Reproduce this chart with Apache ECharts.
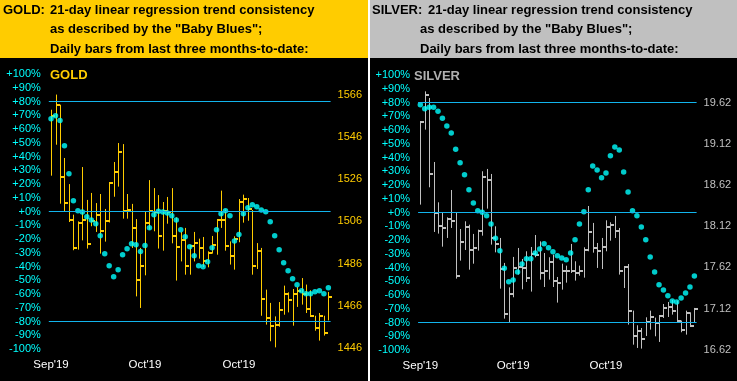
<!DOCTYPE html>
<html>
<head>
<meta charset="utf-8">
<script src="https://cdn.jsdelivr.net/npm/echarts@6/dist/echarts.min.js"></script>
<style>
html,body{margin:0;padding:0;background:#000;}
#c{width:737px;height:381px;}
</style>
</head>
<body>
<div id="c"></div>
<script>
// ---------- DATA ----------
const xTickIndex = [0, 21, 42];
const xTickLabels = ["Sep'19", "Oct'19", "Oct'19"];
const pctLevels = [80, 0, -80];
const goldPriceTicks = [1446, 1466, 1486, 1506, 1526, 1546, 1566];
const silverPriceTicks = [16.62, 17.12, 17.62, 18.12, 18.62, 19.12, 19.62];

const goldHigh = [1559.0,1566.2,1561.4,1536.1,1523.7,1509.2,1506.0,1531.8,1516.2,1519.5,1514.7,1519.0,1511.9,1524.5,1534.2,1543.2,1542.7,1519.0,1514.3,1507.1,1493.4,1510.8,1525.6,1521.8,1518.5,1515.2,1517.6,1521.8,1507.9,1501.0,1502.9,1494.9,1501.0,1497.8,1498.6,1491.8,1499.1,1507.1,1520.6,1511.6,1496.5,1498.9,1516.6,1518.7,1517.1,1511.4,1495.7,1493.4,1473.6,1467.3,1460.9,1467.7,1475.5,1472.3,1473.9,1474.9,1479.1,1476.0,1473.3,1461.2,1462.5,1461.2,1472.5];
const goldLow = [1527.7,1542.4,1514.4,1510.8,1505.7,1492.3,1492.6,1497.0,1493.1,1503.7,1501.0,1490.7,1496.4,1505.5,1517.7,1522.5,1507.3,1507.3,1493.4,1470.4,1464.9,1480.4,1502.1,1501.3,1493.1,1492.1,1504.9,1495.6,1477.9,1487.0,1480.7,1480.7,1487.0,1488.3,1484.3,1484.2,1490.7,1490.2,1502.9,1492.1,1485.5,1483.1,1496.1,1505.4,1506.3,1480.7,1483.4,1461.2,1457.0,1449.1,1446.2,1456.0,1461.7,1462.8,1456.5,1465.4,1466.5,1462.5,1461.2,1454.1,1449.4,1451.8,1459.0];
const goldClose = [1556.2,1561.4,1527.1,1514.9,1506.8,1493.4,1505.1,1506.8,1495.4,1506.0,1508.9,1501.6,1506.3,1524.4,1529.6,1539.1,1510.9,1511.6,1503.0,1478.3,1485.0,1505.4,1511.1,1510.3,1498.9,1510.8,1510.4,1498.9,1493.7,1497.0,1484.7,1494.2,1495.7,1493.4,1487.3,1490.8,1494.9,1506.8,1506.8,1494.5,1489.7,1497.8,1515.4,1516.8,1512.0,1485.0,1492.1,1469.3,1460.1,1456.5,1457.0,1464.1,1471.7,1468.5,1471.7,1473.1,1471.5,1464.2,1461.2,1455.2,1461.2,1453.2,1470.3];
const goldBlues = [67.5,69.7,66.1,47.9,27.5,7.9,0.6,-0.4,-3.8,-6.2,-8.9,-17.6,-30.7,-39.4,-47.4,-42.3,-31.4,-27.0,-23.4,-24.1,-29.0,-24.8,-11.8,-2.3,0.1,-0.4,-1.1,-3.0,-6.2,-13.2,-18.3,-25.6,-32.1,-39.4,-40.1,-36.5,-26.3,-13.2,-1.6,0.6,-3.0,-21.5,-16.8,-1.6,2.8,5.0,3.5,1.1,-0.1,-7.4,-17.6,-27.8,-37.2,-43.0,-48.9,-53.2,-57.6,-59.8,-59.8,-58.3,-57.6,-59.8,-55.4];

const silverHigh = [19.399,19.764,19.683,18.904,18.413,18.291,18.230,18.563,18.291,18.088,18.182,18.141,18.028,18.080,18.791,18.819,18.758,18.121,17.979,17.675,17.378,17.748,17.857,17.723,17.817,17.869,18.015,17.938,17.796,17.744,17.776,17.504,17.666,17.642,17.906,17.695,17.642,17.865,18.368,18.162,17.918,17.979,18.194,18.170,18.247,18.101,17.634,17.662,17.094,16.916,16.883,17.013,17.094,17.009,17.037,17.175,17.200,17.224,17.216,16.973,17.094,17.074,17.127];
const silverLow = [18.385,19.298,18.596,18.052,18.032,17.873,17.979,18.101,17.484,17.703,17.833,17.593,17.666,17.825,18.007,18.336,17.898,17.804,17.362,16.997,16.956,17.257,17.533,17.354,17.443,17.326,17.744,17.472,17.382,17.472,17.382,17.192,17.350,17.435,17.553,17.460,17.520,17.496,17.817,17.800,17.614,17.601,17.817,17.946,17.979,17.533,17.370,16.924,16.680,16.640,16.632,16.786,16.863,16.782,16.713,17.005,17.017,17.046,16.973,16.831,16.802,16.895,16.944];
const silverClose = [19.387,19.716,18.762,18.283,18.121,18.105,18.214,18.190,17.520,17.934,18.117,17.837,17.861,18.068,18.726,18.689,17.979,17.902,17.606,17.058,17.301,17.614,17.626,17.614,17.496,17.788,17.776,17.557,17.577,17.691,17.451,17.431,17.581,17.577,17.577,17.553,17.581,17.833,18.052,17.857,17.821,17.869,18.113,18.137,18.068,17.581,17.626,17.094,16.782,16.851,16.753,16.956,17.021,16.944,17.033,17.127,17.143,17.094,16.973,16.863,17.062,16.908,17.119];
const silverBlues = [78.3,75.4,76.6,76.6,73.7,68.6,63.0,57.9,46.0,36.1,27.4,16.5,7.0,1.2,0.2,-2.4,-8.3,-18.7,-27.9,-40.5,-50.4,-49.0,-43.2,-37.4,-33.7,-33.7,-29.4,-26.5,-22.8,-25.7,-28.6,-31.5,-33.0,-34.4,-29.4,-19.9,-8.3,0.5,16.5,33.9,31.0,25.2,28.8,41.2,47.7,45.5,29.5,15.0,1.2,-2.4,-10.5,-19.9,-32.3,-43.2,-52.6,-56.3,-60.6,-64.3,-65.0,-62.1,-58.5,-54.1,-46.1];

// ---------- BUILD ----------
const N = goldClose.length;
const cats = Array.from({length: N}, (_, i) => i);
const tickMap = {};
xTickIndex.forEach((k, j) => tickMap[k] = xTickLabels[j]);

function ohlc(h, l, c) { return h.map((v, i) => [i, v, l[i], c[i]]); }
function blues(b) { return b.map((v, i) => [i, v]); }

function barRenderer(color) {
  return function (params, api) {
    const hi = api.coord([api.value(0), api.value(1)]);
    const lo = api.coord([api.value(0), api.value(2)]);
    const cl = api.coord([api.value(0), api.value(3)]);
    const x = Math.round(hi[0]) + 0.5;
    const cy = Math.round(cl[1]);
    return {
      type: 'group',
      children: [
        {type: 'line', shape: {x1: x, y1: hi[1], x2: x, y2: lo[1]}, style: {stroke: color, lineWidth: 1}},
        {type: 'line', shape: {x1: x - 0.5, y1: cy, x2: x + 3.5, y2: cy}, style: {stroke: color, lineWidth: 2}}
      ]
    };
  };
}

const CYAN = '#00FFFF';
const LINE = '#12B4EC';
const GOLD = '#FFCC00';
const SILV = '#C0C0C0';
const FONT = '"Liberation Sans", Arial, sans-serif';

function xAx(gi) {
  return {
    type: 'category', gridIndex: gi, data: cats, boundaryGap: true,
    axisLine: {show: false}, axisTick: {show: false}, splitLine: {show: false},
    axisLabel: {
      show: true, color: '#FFFFFF', fontSize: 11.5, fontFamily: FONT, margin: 10,
      interval: (i) => tickMap[i] !== undefined,
      formatter: (v, i) => tickMap[i] || ''
    }
  };
}
function pctAx(gi) {
  return {
    type: 'value', gridIndex: gi, position: 'left', min: -100, max: 100, interval: 10,
    axisLine: {show: false}, axisTick: {show: false}, splitLine: {show: false},
    axisLabel: {
      color: CYAN, fontSize: 11, fontFamily: FONT, margin: 8,
      formatter: v => (v >= 0 ? '+' : '') + v + '%'
    }
  };
}
function priceAx(gi, mn, mx, ticks, color, dec) {
  return {
    type: 'value', gridIndex: gi, position: 'right', min: mn, max: mx,
    axisLine: {show: false}, axisTick: {show: false}, splitLine: {show: false},
    axisLabel: {
      color: color, fontSize: 11, fontFamily: FONT, margin: 7,
      customValues: ticks,
      formatter: v => v.toFixed(dec)
    }
  };
}
function levelLines() {
  return {
    symbol: 'none', silent: true, label: {show: false},
    lineStyle: {color: LINE, width: 1, type: 'solid'},
    data: pctLevels.map(v => ({yAxis: v}))
  };
}

const hdr = (x, y, t) => ({type: 'text', x: x, y: y, style: {text: t, fill: '#000', font: 'bold 13px ' + FONT, textVerticalAlign: 'middle'}});

const option = {
  animation: false,
  backgroundColor: '#000',
  grid: [
    {left: 48.8, top: 74, width: 281.8, height: 275},
    {left: 418.1, top: 75, width: 278.5, height: 275}
  ],
  xAxis: [xAx(0), xAx(1)],
  yAxis: [
    pctAx(0),
    priceAx(0, 1445.42, 1575.97, goldPriceTicks, GOLD, 0),
    pctAx(1),
    priceAx(1, 16.615, 19.963, silverPriceTicks, SILV, 2)
  ],
  graphic: [
    {type: 'rect', shape: {x: 0, y: 0, width: 368, height: 58}, style: {fill: GOLD}, z: -10},
    {type: 'rect', shape: {x: 370, y: 0, width: 367, height: 58}, style: {fill: SILV}, z: -10},
    {type: 'rect', shape: {x: 368, y: 0, width: 2, height: 381}, style: {fill: '#FFFFFF'}, z: -10},
    hdr(3, 10, 'GOLD:'),
    hdr(50, 10, '21-day linear regression trend consistency'),
    hdr(50, 29.5, 'as described by the "Baby Blues";'),
    hdr(50, 49, 'Daily bars from last three months-to-date:'),
    hdr(372, 10, 'SILVER:'),
    hdr(428, 10, '21-day linear regression trend consistency'),
    hdr(420, 29.5, 'as described by the "Baby Blues";'),
    hdr(420, 49, 'Daily bars from last three months-to-date:'),
    {type: 'text', x: 50, y: 75, style: {text: 'GOLD', fill: GOLD, font: 'bold 13px ' + FONT, textVerticalAlign: 'middle'}},
    {type: 'text', x: 414, y: 76, style: {text: 'SILVER', fill: '#B0B0B0', font: 'bold 13px ' + FONT, textVerticalAlign: 'middle'}}
  ],
  series: [
    {type: 'custom', xAxisIndex: 0, yAxisIndex: 1, data: ohlc(goldHigh, goldLow, goldClose),
     encode: {x: 0, y: [1, 2, 3]}, renderItem: barRenderer(GOLD), z: 3},
    {type: 'scatter', xAxisIndex: 0, yAxisIndex: 0, data: blues(goldBlues), symbol: 'circle', symbolSize: 5.5,
     itemStyle: {color: CYAN}, z: 4, markLine: levelLines()},
    {type: 'custom', xAxisIndex: 1, yAxisIndex: 3, data: ohlc(silverHigh, silverLow, silverClose),
     encode: {x: 0, y: [1, 2, 3]}, renderItem: barRenderer(SILV), z: 3},
    {type: 'scatter', xAxisIndex: 1, yAxisIndex: 2, data: blues(silverBlues), symbol: 'circle', symbolSize: 5.5,
     itemStyle: {color: CYAN}, z: 4, markLine: levelLines()}
  ]
};

const chart = echarts.init(document.getElementById('c'), null, {renderer: 'canvas'});
chart.setOption(option);
</script>
</body>
</html>
